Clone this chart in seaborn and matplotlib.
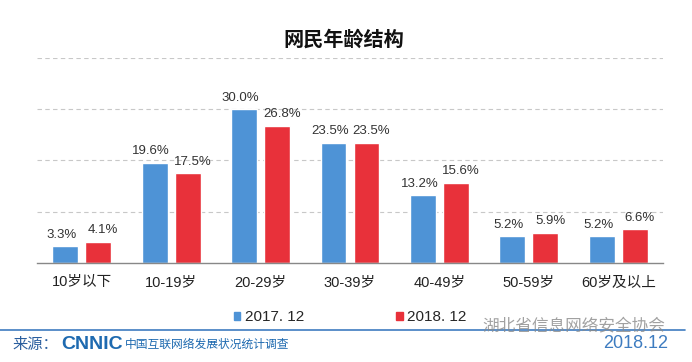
import numpy as np
import pandas as pd
import seaborn as sns
import matplotlib.pyplot as plt
from matplotlib.patches import Patch

# Age structure of netizens (%)
age_groups = ['10岁以下', '10-19岁', '20-29岁', '30-39岁', '40-49岁', '50-59岁', '60岁及以上']
share_2017 = [3.3, 19.6, 30.0, 23.5, 13.2, 5.2, 5.2]
share_2018 = [4.1, 17.5, 26.8, 23.5, 15.6, 5.9, 6.6]
periods = ['2017. 12', '2018. 12']
colors = ['#4E93D6', '#E8313A']

df = pd.DataFrame({
    'age': age_groups * 2,
    'share': share_2017 + share_2018,
    'period': [periods[0]] * len(age_groups) + [periods[1]] * len(age_groups),
})

sns.set_theme(style='white')
plt.rcParams['font.family'] = ['Liberation Sans', 'Noto Sans CJK SC', 'DejaVu Sans']

fig = plt.figure(figsize=(6.92, 3.62), dpi=100)
ax = fig.add_axes([0.0535, 0.2735, 0.9045, 0.5665])

sns.barplot(data=df, x='age', y='share', hue='period', palette=colors,
            width=0.74, gap=0.22, legend=False, ax=ax, saturation=1)

# value labels, nudged apart a little like the original
for c, dx in zip(ax.containers, [-2.5, 3.5]):
    anns = ax.bar_label(c, fmt='%.1f%%', padding=4, fontsize=9.5, color='#333333')
    for a in anns:
        a.xyann = (dx, a.xyann[1])

ax.set_ylim(0, 40)
ax.set_xlim(-0.5, len(age_groups) - 0.5)
ax.set_yticks([10, 20, 30, 40])
ax.set_yticklabels([])
ax.yaxis.grid(True, linestyle=(0, (4, 3)), color='#c8c8c8', linewidth=0.8)
ax.set_axisbelow(True)
ax.set_xlabel('')
ax.set_ylabel('')
for s in ['top', 'right', 'left']:
    ax.spines[s].set_visible(False)
ax.spines['bottom'].set_color('#888888')
ax.spines['bottom'].set_linewidth(1)
ax.tick_params(axis='x', length=0, labelsize=10.5, labelcolor='#222222', pad=9)
ax.tick_params(axis='y', length=0)
ax.set_xticks(np.arange(-0.5, len(age_groups)), minor=True)
ax.tick_params(axis='x', which='minor', length=4, direction='in', color='#888888')

# title
fig.text(0.497, 0.89, '网民年龄结构', ha='center', va='center',
         fontsize=14.5, fontweight='bold', color='#111111')

# legend
handles = [Patch(color=col) for col in colors]
fig.legend(handles, periods, loc='center', bbox_to_anchor=(0.506, 0.124), ncol=2,
           frameon=False, fontsize=11, handlelength=0.45, handleheight=0.45,
           handletextpad=0.3, columnspacing=6.0)

# footer
fig.add_artist(plt.Line2D([0.0, 0.99], [0.089, 0.089], color='#3E7CC0', linewidth=1.2))
fig.text(0.018, 0.047, '来源：', ha='left', va='center', fontsize=11, color='#2A5E9E')
fig.text(0.089, 0.047, 'CNNIC', ha='left', va='center', fontsize=14, fontweight='bold',
         color='#1E6AB0')
fig.text(0.181, 0.047, '中国互联网络发展状况统计调查', ha='left', va='center',
         fontsize=8.5, color='#1E6AB0')
fig.text(0.966, 0.052, '2018.12', ha='right', va='center', fontsize=13,
         color='#3E7CC0')
fig.text(0.962, 0.102, '湖北省信息网络安全协会', ha='right', va='center', fontsize=12,
         color='#8a8a8a', alpha=0.8)

fig.savefig('out.png', dpi=100)
